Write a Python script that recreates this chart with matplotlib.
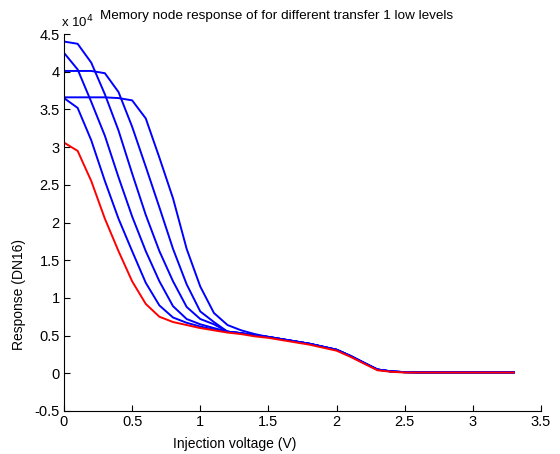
import matplotlib
matplotlib.use('Agg')
import matplotlib.pyplot as plt
import numpy as np

plt.rcParams['font.family'] = ['Liberation Sans', 'DejaVu Sans']

# injection voltage, 0 .. 3.3 V in 0.1 V steps
voltage = np.round(np.arange(0, 3.31, 0.1), 2)

# response in units of 10^4 DN16
tail = [0.54, 0.52, 0.49, 0.47, 0.44, 0.41, 0.38, 0.34, 0.30, 0.22, 0.13, 0.04, 0.02,
        0.01, 0.01, 0.01, 0.01, 0.01, 0.01, 0.01, 0.01, 0.01]
tail_b = [0.552, 0.532, 0.502, 0.482, 0.452, 0.422, 0.392, 0.352, 0.312, 0.232, 0.14, 0.05, 0.025,
          0.015, 0.012, 0.012, 0.012, 0.012, 0.012, 0.012, 0.012, 0.012]

red_curve = [3.06, 2.95, 2.55, 2.05, 1.62, 1.22, 0.92, 0.75, 0.68, 0.64, 0.60, 0.57] + tail

blue_e = [3.65, 3.52, 3.09, 2.55, 2.05, 1.62, 1.20, 0.90, 0.74, 0.67, 0.62, 0.58] + tail_b
blue_b = [4.25, 4.03, 3.60, 3.15, 2.60, 2.08, 1.62, 1.22, 0.89, 0.72, 0.65, 0.60] + tail_b
blue_a = [4.40, 4.37, 4.12, 3.70, 3.22, 2.65, 2.10, 1.62, 1.22, 0.88, 0.72, 0.65] + tail_b
blue_c = [4.01, 4.01, 4.01, 3.98, 3.73, 3.27, 2.74, 2.20, 1.65, 1.18, 0.82, 0.68] + tail_b
blue_d = [3.66, 3.66, 3.66, 3.66, 3.65, 3.62, 3.38, 2.86, 2.32, 1.65, 1.15, 0.80] + \
         [0.64, 0.57, 0.52] + tail_b[3:]

fig = plt.figure(figsize=(5.6, 4.54), dpi=100)
ax = fig.add_axes([64/560, 1 - 411/454, 477/560, 377/454])

for curve in [blue_e, blue_b, blue_a, blue_c, blue_d]:
    ax.plot(voltage, curve, color='#0000ff', lw=1.4)
ax.plot(voltage, red_curve, color='#ff0000', lw=1.4)

ax.set_xlim(0, 3.5)
ax.set_ylim(-0.5, 4.5)
ax.set_xticks(np.arange(0, 3.51, 0.5))
ax.set_yticks(np.arange(-0.5, 4.51, 0.5))
ax.set_xticklabels(['0', '0.5', '1', '1.5', '2', '2.5', '3', '3.5'])
ax.set_yticklabels(['-0.5', '0', '0.5', '1', '1.5', '2', '2.5', '3', '3.5', '4', '4.5'])
ax.tick_params(direction='in', length=4, width=0.8, labelsize=10.5, pad=3)
ax.spines['top'].set_visible(False)
ax.spines['right'].set_visible(False)

ax.set_xlabel('Injection voltage (V)', fontsize=10)
ax.xaxis.set_label_coords(0.358, -0.07)
ax.set_ylabel('Response (DN16)', fontsize=10)
ax.yaxis.set_label_coords(-0.08, 0.31)

ax.text(-0.007, 1.01, r'x 10$^4$', transform=ax.transAxes, fontsize=9.5, va='bottom')
fig.text(277/560, 1 - 16/454, 'Memory node response of for different transfer 1 low levels',
         ha='center', va='center', fontsize=9.7)

fig.savefig('out.png', dpi=100)
